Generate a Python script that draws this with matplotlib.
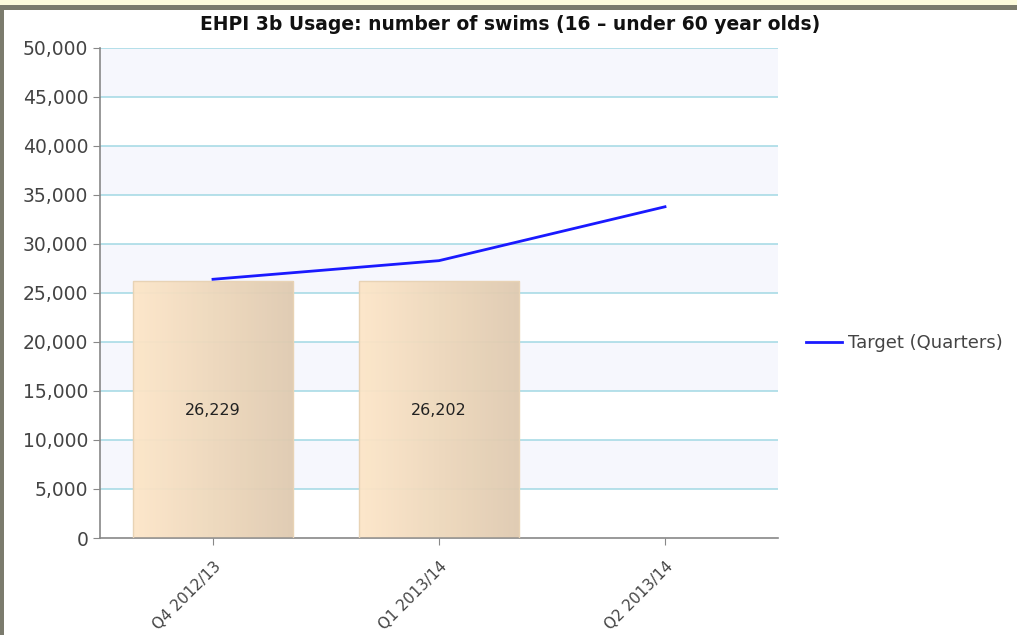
import matplotlib

matplotlib.use("Agg")
import matplotlib.pyplot as plt
import numpy as np
from matplotlib.patches import Rectangle
from matplotlib.ticker import FuncFormatter

quarters = ["Q4 2012/13", "Q1 2013/14", "Q2 2013/14"]
swims = [26229, 26202]
target = [26400, 28300, 33800]

W, H = 1017, 635
fig = plt.figure(figsize=(W / 100, H / 100), dpi=100)
fig.patch.set_facecolor("white")

# page frame bits around the chart
fig.patches.append(Rectangle((0, 1 - 5 / H), 1, 5 / H, transform=fig.transFigure,
                             facecolor="#fdfbdc", edgecolor="none"))
fig.patches.append(Rectangle((0, 1 - 10 / H), 1, 5 / H, transform=fig.transFigure,
                             facecolor="#7b7b6d", edgecolor="none"))
fig.patches.append(Rectangle((0, 0), 4 / W, 1 - 5 / H, transform=fig.transFigure,
                             facecolor="#7b7b6d", edgecolor="none"))

ax = fig.add_axes([100 / W, 1 - 538 / H, 678 / W, 490 / H])
ax.set_xlim(-0.5, 2.5)
ax.set_ylim(0, 50000)

# alternating bands + grid
for i, y0 in enumerate(range(0, 50000, 5000)):
    if i % 2 == 1:
        ax.axhspan(y0, y0 + 5000, color="#f6f7fd", zorder=0, lw=0)
for y in range(5000, 50001, 5000):
    ax.axhline(y, color="#a9dbe6", lw=1.2, zorder=1)

# bars with a left->right gradient
grad = np.linspace(0, 1, 256).reshape(1, -1)
cmap = matplotlib.colors.LinearSegmentedColormap.from_list("tan", ["#fde6c8", "#dfcab0"])
bars = ax.bar(range(len(swims)), swims, width=0.71, color="none",
              edgecolor="#e8d3b5", lw=1, zorder=3)
for b, v in zip(bars, swims):
    x0, w = b.get_x(), b.get_width()
    im = ax.imshow(grad, extent=[x0, x0 + w, 0, v], aspect="auto", cmap=cmap,
                   zorder=2, alpha=0.95)
    im.set_clip_path(b)
    ax.text(x0 + w / 2, 13000, f"{v:,}", ha="center", va="center",
            fontsize=11.5, color="#222222", zorder=4)

ax.plot(range(len(target)), target, color="#1a1aff", lw=2, zorder=5,
        label="Target (Quarters)")

for s in ["top", "right"]:
    ax.spines[s].set_visible(False)
for s in ["left", "bottom"]:
    ax.spines[s].set_color("#888888")
    ax.spines[s].set_linewidth(1.2)

ax.set_yticks(range(0, 50001, 5000))
ax.yaxis.set_major_formatter(FuncFormatter(lambda v, p: f"{int(v):,}"))
ax.set_xticks(range(len(quarters)))
ax.set_xticklabels(quarters, rotation=45, ha="right", rotation_mode="anchor",
                   fontsize=11, color="#444444")
ax.tick_params(axis="y", labelsize=13.5, colors="#444444", length=5, color="#888888")
ax.tick_params(axis="x", length=5, color="#888888", pad=10)

fig.text(510 / W, 1 - 24 / H, "EHPI 3b Usage: number of swims (16 – under 60 year olds)",
         ha="center", va="center", fontsize=13.5, fontweight="bold", color="#111111")

leg = fig.legend(loc="center left", bbox_to_anchor=(790 / W, 1 - 343 / H),
                 frameon=False, fontsize=13, handlelength=2.0, handletextpad=0.3,
                 labelcolor="#444444")

fig.savefig("out.png", dpi=100)
